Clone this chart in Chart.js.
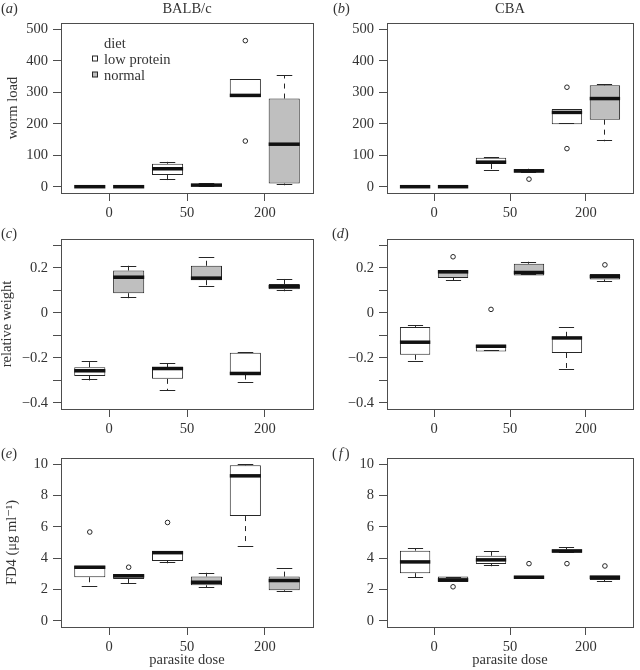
<!DOCTYPE html>
<html>
<head>
<meta charset="utf-8">
<title>Worm load, relative weight and FD4 by parasite dose and diet</title>
<script src="https://cdn.jsdelivr.net/npm/chart.js@4.4.1/dist/chart.umd.min.js"></script>
<style>
  html, body { margin: 0; padding: 0; background: #fff; overflow: hidden; }
  #figure { position: relative; width: 640px; height: 670px; }
  #figure canvas { position: absolute; left: 0; top: 0; }
</style>
</head>
<body>
<div id="figure">
  <canvas id="panelA" width="640" height="670"></canvas>
  <canvas id="panelB" width="640" height="670"></canvas>
  <canvas id="panelC" width="640" height="670"></canvas>
  <canvas id="panelD" width="640" height="670"></canvas>
  <canvas id="panelE" width="640" height="670"></canvas>
  <canvas id="panelF" width="640" height="670"></canvas>
</div>
<script>
// Box order in every panel: dose 0 low protein, dose 0 normal,
// dose 50 low protein, dose 50 normal, dose 200 low protein, dose 200 normal.
const positions = [1, 2, 3, 4, 5, 6];
const doseTicks = [1.5, 3.5, 5.5];
const doseLabels = ['0', '50', '200'];
const diets = ['low protein', 'normal'];
const dietFills = ['#ffffff', '#bfbfbf'];

// five-number summaries: [lower whisker, Q1, median, Q3, upper whisker]
const wormBalb = [
  [0, 0, 0, 0, 0], [0, 0, 0, 0, 0], [20, 37, 57, 73, 79],
  [0, 2, 5, 9, 12], [285, 285, 290, 342, 342], [5, 10, 135, 280, 355],
];
const wormBalbOut = [[], [], [], [], [464, 145], []];

const wormCba = [
  [0, 0, 0, 0, 0], [0, 0, 0, 0, 0], [49, 72, 78, 92, 94],
  [45, 45, 50, 56, 57], [198, 198, 236, 247, 247], [144, 213, 280, 322, 325],
];
const wormCbaOut = [[], [], [], [24], [316, 121], []];

const weightBalb = [
  [-0.301, -0.281, -0.258, -0.242, -0.213], [0.064, 0.087, 0.158, 0.188, 0.209],
  [-0.346, -0.294, -0.248, -0.242, -0.224], [0.116, 0.145, 0.154, 0.209, 0.246],
  [-0.312, -0.275, -0.270, -0.178, -0.176], [0.096, 0.104, 0.116, 0.128, 0.152],
];
const weightBalbOut = [[], [], [], [], [], []];

const weightCba = [
  [-0.219, -0.187, -0.131, -0.063, -0.055], [0.143, 0.155, 0.182, 0.190, 0.190],
  [-0.172, -0.172, -0.149, -0.142, -0.142], [0.166, 0.166, 0.179, 0.218, 0.227],
  [-0.254, -0.179, -0.112, -0.107, -0.063], [0.137, 0.148, 0.161, 0.172, 0.172],
];
const weightCbaOut = [[], [0.249], [0.015], [], [], [0.213]];

const fd4Balb = [
  [2.17, 2.78, 3.42, 3.50, 3.50], [2.36, 2.67, 2.87, 2.99, 2.99],
  [3.67, 3.82, 4.35, 4.44, 4.44], [2.12, 2.27, 2.46, 2.82, 3.06],
  [4.73, 6.69, 9.26, 9.94, 10.02], [1.83, 1.95, 2.57, 2.82, 3.38],
];
const fd4BalbOut = [[5.67], [3.42], [6.28], [], [], []];

const fd4Cba = [
  [2.74, 3.04, 3.76, 4.48, 4.63], [2.48, 2.48, 2.61, 2.82, 2.82],
  [3.48, 3.63, 3.89, 4.16, 4.46], [2.68, 2.68, 2.78, 2.87, 2.87],
  [4.35, 4.35, 4.46, 4.56, 4.69], [2.50, 2.61, 2.78, 2.89, 2.89],
];
const fd4CbaOut = [[], [2.17], [], [3.65], [3.65], [3.50]];

const wormTicks = [0, 100, 200, 300, 400, 500];
const weightTicks = [-0.4, -0.3, -0.2, -0.1, 0, 0.1, 0.2, 0.3];
const fd4Ticks = [0, 2, 4, 6, 8, 10];

const INK = '#262626';
const FRAME = '#4d4d4d';
const SERIF = '"Liberation Serif", "DejaVu Serif", "Times New Roman", serif';
const FONT_SIZE = 14.5;

Chart.defaults.font.family = SERIF;
Chart.defaults.font.size = FONT_SIZE;
Chart.defaults.color = '#333';

const plainLabel = (v) => String(v);
const weightLabel = (v) => {
  const tenths = Math.round(v * 10);
  if (tenths % 2 !== 0) return '';
  return String(tenths / 10).replace('-', '\u2212');
};

// whiskers, staples and thick medians, drawn through the chart's own scales
const boxPlot = {
  id: 'boxPlot',
  afterDatasetsDraw(chart) {
    const { ctx } = chart;
    const y = chart.scales.y;
    const seg = (x1, y1, x2, y2) => {
      ctx.beginPath(); ctx.moveTo(x1, y1); ctx.lineTo(x2, y2); ctx.stroke();
    };
    chart.data.datasets.forEach((ds, di) => {
      if (!ds.stats) return;
      chart.getDatasetMeta(di).data.forEach((bar, j) => {
        const [lo, q1, med, q3, hi] = ds.stats[j].map((v) => y.getPixelForValue(v));
        const x = Math.round(bar.x - 0.5) + 0.5;
        const w = bar.width;
        ctx.save();
        ctx.strokeStyle = INK;
        ctx.lineWidth = 1;
        ctx.setLineDash([5, 5]);
        if (hi < q3) seg(x, q3, x, hi);
        if (lo > q1) seg(x, q1, x, lo);
        ctx.setLineDash([]);
        seg(x - w / 4, Math.round(hi) + 0.5, x + w / 4, Math.round(hi) + 0.5);
        seg(x - w / 4, Math.round(lo) - 0.5, x + w / 4, Math.round(lo) - 0.5);
        ctx.strokeStyle = '#111';
        ctx.lineWidth = 3.5;
        ctx.lineCap = 'butt';
        seg(bar.x - w / 2, med, bar.x + w / 2, med);
        ctx.restore();
      });
    });
  },
};

// frame, panel letter, column heading and the diet key
const panelText = {
  id: 'panelText',
  afterDraw(chart, args, opts) {
    const { ctx, chartArea: a } = chart;
    ctx.save();
    ctx.strokeStyle = FRAME;
    ctx.lineWidth = 1;
    const l = Math.round(a.left - 0.5) + 0.5, r = Math.round(a.right - 0.5) + 0.5;
    const t = Math.round(a.top - 0.5) + 0.5, b = Math.round(a.bottom - 0.5) + 0.5;
    ctx.strokeRect(l, t, r - l, b - t);

    ctx.fillStyle = '#333';
    ctx.textBaseline = 'alphabetic';
    const upright = `${FONT_SIZE}px ${SERIF}`;
    const italic = `italic ${FONT_SIZE}px ${SERIF}`;
    let x = opts.letterX;
    ctx.textAlign = 'left';
    ctx.font = upright; ctx.fillText('(', x, opts.letterY); x += ctx.measureText('(').width + opts.letterGap;
    ctx.font = italic; ctx.fillText(opts.letter, x, opts.letterY); x += ctx.measureText(opts.letter).width + opts.letterGap;
    ctx.font = upright; ctx.fillText(')', x, opts.letterY);

    if (opts.heading) {
      ctx.textAlign = 'center';
      ctx.fillText(opts.heading, (a.left + a.right) / 2, opts.headingY);
    }

    if (opts.key) {
      const k = opts.key;
      ctx.textAlign = 'left';
      ctx.fillText(k.title, k.x, k.y);
      chart.data.datasets.filter((ds) => ds.stats).forEach((ds, i) => {
        const by = k.y + k.step * (i + 1);
        ctx.fillStyle = ds.backgroundColor;
        ctx.fillRect(k.x - 11.5, by - 7.5, 5, 5);
        ctx.strokeStyle = INK;
        ctx.strokeRect(k.x - 11.5, by - 7.5, 5, 5);
        ctx.fillStyle = '#333';
        ctx.fillText(ds.label, k.x, by);
      });
    }
    ctx.restore();
  },
};

const panels = [
  { id: 'panelA', stats: wormBalb, out: wormBalbOut, ticks: wormTicks, min: -20, max: 520, label: plainLabel,
    l: 61, r: 313, t: 23, b: 193, yw: 61, xh: 25, ytitle: 'worm load', ytp: 5.5, xtitle: '',
    letter: 'a', letterX: 1, letterY: 13, letterGap: 0, heading: 'BALB/c', headingY: 13,
    key: { title: 'diet', x: 104, y: 47.5, step: 16 } },
  { id: 'panelB', stats: wormCba, out: wormCbaOut, ticks: wormTicks, min: -20, max: 520, label: plainLabel,
    l: 387, r: 633, t: 23, b: 193, yw: 45, xh: 25, ytitle: '', ytp: 0, xtitle: '',
    letter: 'b', letterX: 333, letterY: 13, letterGap: 0, heading: 'CBA', headingY: 13 },
  { id: 'panelC', stats: weightBalb, out: weightBalbOut, ticks: weightTicks, min: -0.428, max: 0.328, label: weightLabel,
    l: 61, r: 313, t: 239, b: 409, yw: 61, xh: 25, ytitle: 'relative weight', ytp: 0, xtitle: '',
    letter: 'c', letterX: 1, letterY: 238, letterGap: 0 },
  { id: 'panelD', stats: weightCba, out: weightCbaOut, ticks: weightTicks, min: -0.428, max: 0.328, label: weightLabel,
    l: 387, r: 633, t: 239, b: 409, yw: 45, xh: 25, ytitle: '', ytp: 0, xtitle: '',
    letter: 'd', letterX: 332, letterY: 238, letterGap: 0 },
  { id: 'panelE', stats: fd4Balb, out: fd4BalbOut, ticks: fd4Ticks, min: -0.4, max: 10.4, label: plainLabel,
    l: 61, r: 313, t: 458, b: 627, yw: 61, xh: 42, ytitle: 'FD4 (\u03bcg ml\u207b\u00b9)', ytp: 4.75, xtitle: 'parasite dose',
    letter: 'e', letterX: 1, letterY: 458, letterGap: 0 },
  { id: 'panelF', stats: fd4Cba, out: fd4CbaOut, ticks: fd4Ticks, min: -0.4, max: 10.4, label: plainLabel,
    l: 387, r: 633, t: 458, b: 627, yw: 45, xh: 42, ytitle: '', ytp: 0, xtitle: 'parasite dose',
    letter: 'f', letterX: 332, letterY: 458, letterGap: 2 },
];

function buildPanel(p) {
  const boxes = diets.map((diet, d) => {
    const idx = positions.map((_, i) => i).filter((i) => i % 2 === d);
    return {
      type: 'bar',
      label: diet,
      data: idx.map((i) => ({ x: positions[i], y: [p.stats[i][1], p.stats[i][3]] })),
      stats: idx.map((i) => p.stats[i]),
      backgroundColor: dietFills[d],
      borderColor: INK,
      borderWidth: 1,
      borderSkipped: false,
      grouped: false,
      barPercentage: 0.8,
      categoryPercentage: 1,
    };
  });
  const outliers = {
    type: 'scatter',
    label: 'outliers',
    data: p.out.flatMap((vals, i) => vals.map((v) => ({ x: positions[i], y: v }))),
    pointRadius: 2.3,
    pointBorderWidth: 1,
    borderColor: INK,
    backgroundColor: '#fff',
  };

  const tickGrid = { display: true, drawOnChartArea: false, drawTicks: true, tickLength: 8, color: FRAME, lineWidth: 1 };

  return new Chart(document.getElementById(p.id), {
    type: 'bar',
    data: { datasets: [...boxes, outliers] },
    plugins: [boxPlot, panelText],
    options: {
      responsive: false,
      animation: false,
      events: [],
      layout: { padding: { left: p.l - p.yw, top: p.t, right: 640 - p.r, bottom: 670 - p.b - p.xh } },
      plugins: {
        legend: { display: false },
        tooltip: { enabled: false },
        panelText: { letter: p.letter, letterX: p.letterX, letterY: p.letterY, letterGap: p.letterGap,
                     heading: p.heading, headingY: p.headingY, key: p.key },
      },
      scales: {
        x: {
          type: 'linear',
          min: 0.26,
          max: 6.74,
          bounds: 'data',
          offset: false,
          afterBuildTicks: (s) => { s.ticks = doseTicks.map((v) => ({ value: v })); },
          afterFit: (s) => { s.height = p.xh; },
          ticks: {
            autoSkip: false, maxRotation: 0, padding: 3,
            callback: (v) => doseLabels[doseTicks.indexOf(v)],
          },
          grid: { ...tickGrid, offset: false },
          border: { display: false },
          title: {
            display: !!p.xtitle, text: p.xtitle, color: '#333',
            font: { size: FONT_SIZE, lineHeight: 1.2 }, padding: { top: 0, bottom: 0 },
          },
        },
        y: {
          type: 'linear',
          min: p.min,
          max: p.max,
          bounds: 'data',
          afterBuildTicks: (s) => { s.ticks = p.ticks.map((v) => ({ value: v })); },
          afterFit: (s) => { s.width = p.yw; },
          ticks: { autoSkip: false, padding: 5, callback: p.label },
          grid: tickGrid,
          border: { display: false },
          title: {
            display: !!p.ytitle, text: p.ytitle, color: '#333',
            font: { size: FONT_SIZE, lineHeight: 1 }, padding: { top: p.ytp, bottom: 0 },
          },
        },
      },
    },
  });
}

panels.forEach(buildPanel);
</script>
</body>
</html>
